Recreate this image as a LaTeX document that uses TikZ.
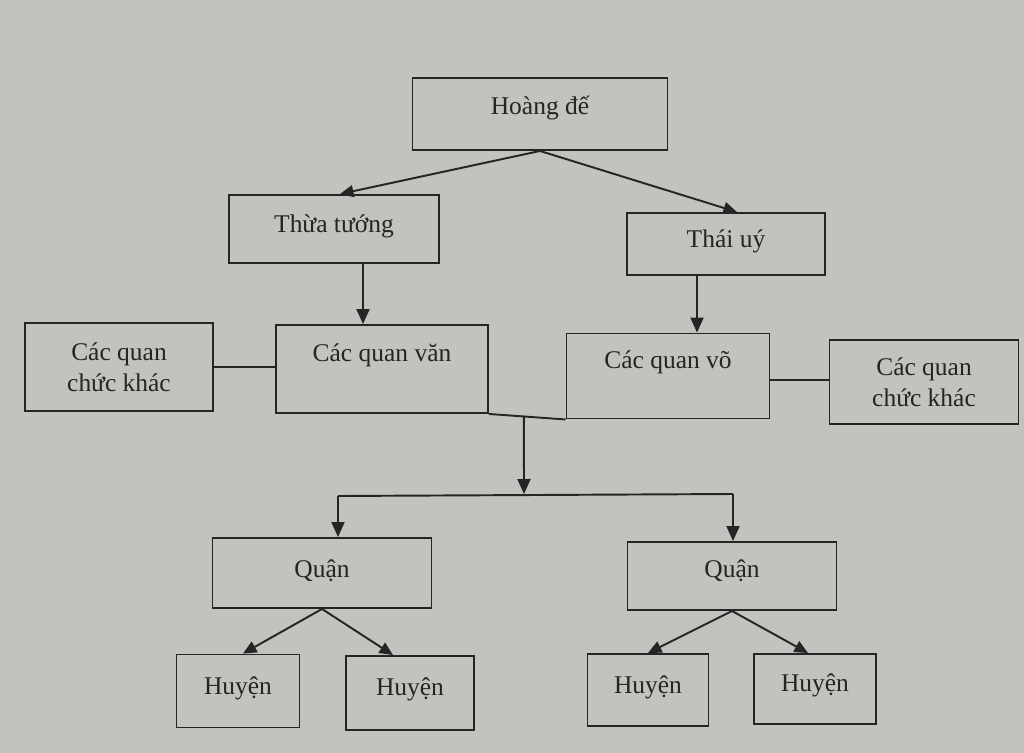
\documentclass[tikz,border=0pt]{standalone}
\usepackage{fontspec}
\setmainfont{Liberation Serif}
\usetikzlibrary{arrows.meta,calc}
\newdimen\px \px=0.02cm
\definecolor{paper}{RGB}{196,194,190}
\definecolor{ink}{RGB}{38,36,36}
\begin{document}
\begin{tikzpicture}[x=0.02cm,y=-0.02cm,
  box/.style={draw=ink,line width=1.1pt,rectangle,inner sep=0pt,text=ink,
    font=\fontsize{14.5}{17.6}\selectfont,align=center},
  one/.style={box,text height=12pt,text depth=#1},
  arr/.style={draw=ink,line width=1.1pt,-{Triangle[length=0.3cm,width=0.26cm]}},
  sarr/.style={draw=ink,line width=1.1pt,-{Triangle[length=0.27cm,width=0.24cm]}},
  ln/.style={draw=ink,line width=1.1pt}]
\fill[paper] (0,0) rectangle (1024,753);
\useasboundingbox (0,0) rectangle (1024,753);
% boxes
\node[one=11pt,minimum width=255\px,minimum height=72\px] (hd) at (540,114) {Hoàng đế};
\node[one=8.5pt,minimum width=210\px,minimum height=68\px] (tt) at (334,229) {Thừa tướng};
\node[one=8.5pt,minimum width=198\px,minimum height=62\px] (tu) at (726,244) {Thái uý};
\node[one=20pt,minimum width=212\px,minimum height=88\px] (van) at (382,369) {Các quan văn};
\node[one=20pt,minimum width=203\px,minimum height=85\px] (vo) at (668,376) {Các quan võ};
\node[box,minimum width=188\px,minimum height=88\px] (ckL) at (119,367) {Các quan\\chức khác};
\node[box,minimum width=189\px,minimum height=84\px] (ckR) at (924,382) {Các quan\\chức khác};
\node[one=7pt,minimum width=219\px,minimum height=70\px] (q1) at (322,573) {Quận};
\node[one=10pt,minimum width=209\px,minimum height=68\px] (q2) at (732,576) {Quận};
\node[one=7.5pt,minimum width=123\px,minimum height=73\px] (h1) at (238,691) {Huyện};
\node[one=9pt,minimum width=128\px,minimum height=74\px] (h2) at (410,693) {Huyện};
\node[one=8.5pt,minimum width=121\px,minimum height=72\px] (h3) at (648,690) {Huyện};
\node[one=9pt,minimum width=122\px,minimum height=70\px] (h4) at (815,689) {Huyện};
% connectors
\draw[sarr] (hd.south) -- ([xshift=6\px]tt.north);
\draw[sarr] (hd.south) -- ([xshift=11\px]tu.north);
\draw[arr] ([xshift=29\px]tt.south) -- ([xshift=29\px]tt.south |- van.north);
\draw[arr] ([xshift=-29\px]tu.south) -- ([xshift=-29\px]tu.south |- vo.north);
\draw[ln] (ckL.east) -- (ckL.east -| van.west);
\draw[ln] ([yshift=-4\px]vo.east) -- ([yshift=-4\px]vo.east -| ckR.west);
\draw[ln] (van.south east) -- (vo.south west);
\coordinate (m) at ($(van.south east)!0.456!(vo.south west)$);
\coordinate (j) at (524,494);
\coordinate (jl) at (338,496);
\coordinate (jr) at (733,494);
\draw[arr] (m) -- (j);
\draw[ln] (jl) -- (jr);
\draw[arr] (jl) -- (jl |- q1.north);
\draw[arr] (jr) -- (jr |- q2.north);
\draw[sarr] (q1.south) -- ([xshift=5\px]h1.north);
\draw[sarr] (q1.south) -- ([xshift=-17\px]h2.north);
\draw[sarr] (q2.south) -- (h3.north);
\draw[sarr] (q2.south) -- ([xshift=-7\px]h4.north);
\end{tikzpicture}
\end{document}
